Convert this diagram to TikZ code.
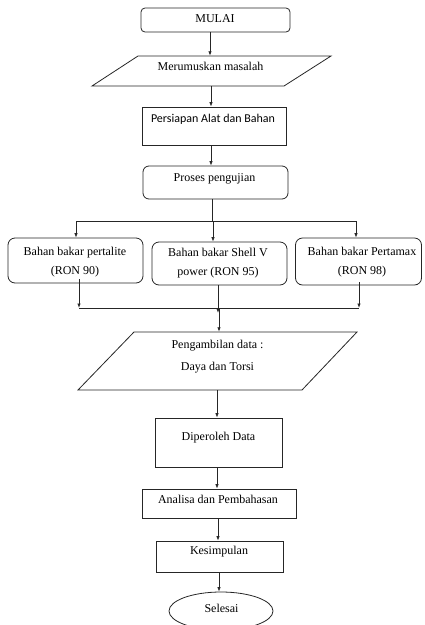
\documentclass[tikz,border=0pt]{standalone}
\usepackage{fontspec}
\setmainfont{Liberation Serif}
\newfontfamily\calib{Carlito}
\usetikzlibrary{arrows.meta,shapes.geometric}
\begin{document}
\begin{tikzpicture}[x=1pt,y=-1pt,
  every node/.style={inner sep=0pt, font=\fontsize{12}{14}\selectfont},
  frame/.style={draw=black!85, line width=0.8pt},
  sbox/.style={frame, rectangle},
  rbox/.style={frame, rectangle, rounded corners=#1},
  rbox/.default=6pt,
  holder/.style={rectangle},
  lbl/.style={text height=8pt, text depth=2.5pt},
  two/.style={align=center, font=\fontsize{12}{19}\selectfont},
  ln/.style={draw=black!85, line width=0.8pt},
  arr/.style={ln, -{Latex[length=4.5pt,width=3.5pt]}}]
\useasboundingbox (0,0) rectangle (425,625);

% boxes
\node[rbox=4pt, minimum width=149pt, minimum height=24pt] (mulai) at (215.5,20) {};
\node[lbl] (tmulai) at (215,20) {MULAI};

\node[holder, minimum width=193pt, minimum height=30pt] (merum) at (211.5,71) {};
\draw[frame] (138,56) -- (331,56) -- (284,86) -- (92,86) -- cycle;
\node[lbl] (tmerum) at (210.5,68) {Merumuskan masalah};

\node[sbox, minimum width=144pt, minimum height=38pt] (prep) at (214,126) {};
\node[lbl, font=\calib\fontsize{12}{14}\selectfont] (tprep) at (213,120) {Persiapan Alat dan Bahan};

\node[rbox=6pt, minimum width=145pt, minimum height=33pt] (proses) at (215.5,182.5) {};
\node[lbl] (tproses) at (214.5,179) {Proses pengujian};

\node[rbox=7pt, minimum width=135pt, minimum height=45pt] (b1) at (75.5,260.5) {};
\node[two] (tb1) at (75,262.5) {Bahan bakar pertalite\\(RON 90)};

\node[rbox=7pt, minimum width=135pt, minimum height=43pt] (b2) at (219.5,263.5) {};
\node[two] (tb2) at (218,263.5) {Bahan bakar Shell V\\power (RON 95)};

\node[rbox=7pt, minimum width=126pt, minimum height=47pt] (b3) at (358.5,261.5) {};
\node[two] (tb3) at (362,262.5) {Bahan bakar Pertamax\\(RON 98)};

\node[holder, minimum width=224pt, minimum height=58pt] (ambil) at (217.5,361) {};
\draw[frame] (134,332) -- (357,332) -- (302,390) -- (78,390) -- cycle;
\node[align=center, font=\fontsize{12}{22}\selectfont] (tambil) at (217.5,357) {Pengambilan data :\\Daya dan Torsi};

\node[sbox, minimum width=127pt, minimum height=49pt] (data) at (218.5,442.5) {};
\node[lbl] (tdata) at (218.5,438) {Diperoleh Data};

\node[sbox, minimum width=154pt, minimum height=29pt] (anal) at (219,503.5) {};
\node[lbl] (tanal) at (218,501) {Analisa dan Pembahasan};

\node[sbox, minimum width=127pt, minimum height=31pt] (kes) at (219.5,556.5) {};
\node[lbl] (tkes) at (219,552) {Kesimpulan};

\node[frame, ellipse, minimum width=104pt, minimum height=38pt] (end) at (221,611) {};
\node[lbl] (tend) at (221.5,610) {Selesai};

% connector columns
\coordinate (c1) at (210,0);
\coordinate (c2) at (211,0);
\coordinate (c3) at (211,0);
\coordinate (c4) at (212,0);
\coordinate (sl) at (76,221);
\coordinate (sm) at (213,221);
\coordinate (sr) at (356,221);
\coordinate (jl) at (79,308);
\coordinate (jm) at (218,308);
\coordinate (jr) at (359,308);
\coordinate (c5) at (219,0);
\coordinate (c6) at (217,0);
\coordinate (c7) at (217,0);
\coordinate (c8) at (218,0);
\coordinate (c9) at (219,0);

\draw[arr] (mulai.south -| c1) -- (merum.north -| c1);
\draw[arr] (merum.south -| c2) -- (prep.north -| c2);
\draw[arr] (prep.south -| c3) -- (proses.north -| c3);
\draw[ln] (proses.south -| c4) -- (sm -| c4);
\draw[ln] (sl) -- (sr);
\draw[arr] (sl) -- (b1.north -| sl);
\draw[arr] (sm) -- (b2.north -| sm);
\draw[arr] (sr) -- (b3.north -| sr);
\draw[arr] ([yshift=4pt]b1.south -| jl) -- (jl);
\draw[arr] (b2.south -| jm) -- ([yshift=-5pt]jm);
\draw[arr] ([yshift=3pt]b3.south -| jr) -- (jr);
\draw[ln] (jl) -- (jr);
\draw[arr] (jm -| c5) -- (ambil.north -| c5);
\draw[arr] (ambil.south -| c6) -- (data.north -| c6);
\draw[arr] (data.south -| c7) -- (anal.north -| c7);
\draw[arr] (anal.south -| c8) -- (kes.north -| c8);
\draw[arr] (kes.south -| c9) -- (end.north -| c9);
\end{tikzpicture}
\end{document}
